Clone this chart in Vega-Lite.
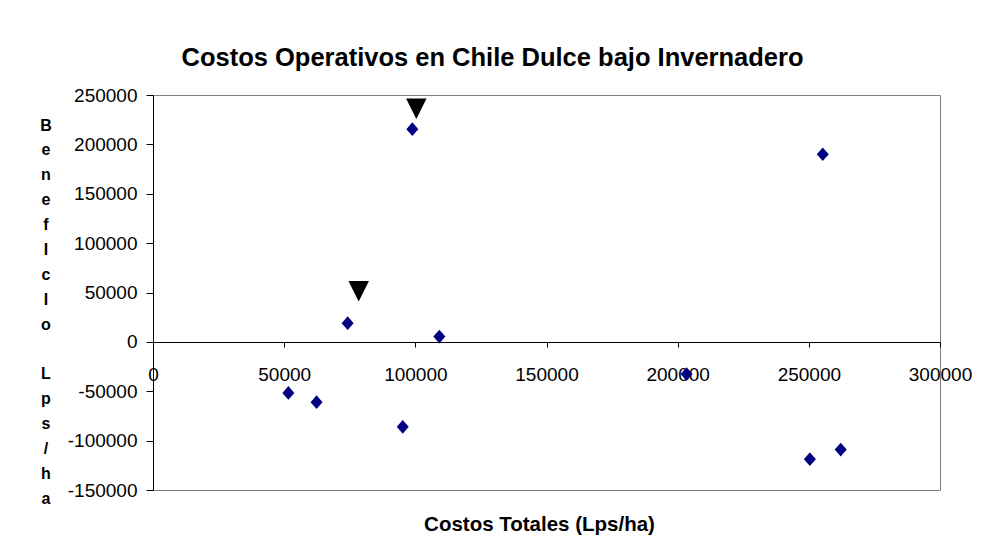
{
  "$schema": "https://vega.github.io/schema/vega-lite/v6.json",
  "width": 787,
  "height": 395,
  "autosize": {"type": "none"},
  "padding": {"left": 153, "top": 95, "right": 42, "bottom": 60},
  "background": "white",
  "config": {
    "view": {"stroke": "#808080", "strokeWidth": 1},
    "font": "Liberation Sans"
  },
  "title": {
    "text": "Costos Operativos en Chile Dulce bajo Invernadero",
    "font": "Liberation Sans",
    "fontSize": 25.5,
    "fontWeight": "bold",
    "color": "black",
    "anchor": "middle",
    "frame": "group",
    "baseline": "alphabetic",
    "offset": 33,
    "dx": -54,
    "dy": 38
  },
  "data": {
    "values": [
      {"serie": "dato", "costo": 74200, "beneficio": 18900},
      {"serie": "dato", "costo": 98860, "beneficio": 215400},
      {"serie": "dato", "costo": 109150, "beneficio": 5400},
      {"serie": "dato", "costo": 255300, "beneficio": 190000},
      {"serie": "dato", "costo": 51600, "beneficio": -51700},
      {"serie": "dato", "costo": 62350, "beneficio": -61100},
      {"serie": "dato", "costo": 95200, "beneficio": -86000},
      {"serie": "dato", "costo": 203400, "beneficio": -32600},
      {"serie": "dato", "costo": 250400, "beneficio": -118800},
      {"serie": "dato", "costo": 262150, "beneficio": -109100},
      {"serie": "marca", "costo": 78400, "beneficio": 51300},
      {"serie": "marca", "costo": 100370, "beneficio": 236150}
    ]
  },
  "encoding": {
    "x": {
      "field": "costo",
      "type": "quantitative",
      "scale": {"domain": [0, 300000], "nice": false, "zero": false},
      "axis": {
        "title": "Costos Totales (Lps/ha)",
        "offset": -148,
        "values": [0, 50000, 100000, 150000, 200000, 250000, 300000],
        "labelExpr": "'' + datum.value",
        "labelFont": "Liberation Sans",
        "labelFontSize": 19,
        "labelColor": "black",
        "labelBaseline": "alphabetic",
        "labelPadding": 33.7,
        "labelFlush": false,
        "labelOverlap": false,
        "tickSize": 5,
        "tickColor": "black",
        "domainColor": "black",
        "grid": false,
        "titleFont": "Liberation Sans",
        "titleFontSize": 20.5,
        "titleFontWeight": "bold",
        "titleColor": "black",
        "titleBaseline": "alphabetic",
        "titleX": 386,
        "titleY": 188
      }
    },
    "y": {
      "field": "beneficio",
      "type": "quantitative",
      "scale": {"domain": [-150000, 250000], "nice": false, "zero": false},
      "axis": {
        "title": ["B", "e", "n", "e", "f", "I", "c", "I", "o", "\u200b", "L", "p", "s", "/", "h", "a"],
        "titleAngle": 0,
        "titleX": -107.5,
        "titleY": 35,
        "titleAlign": "center",
        "titleBaseline": "alphabetic",
        "titleLineHeight": 24.9,
        "titleFont": "Liberation Sans",
        "titleFontSize": 16,
        "titleFontWeight": "bold",
        "titleColor": "black",
        "values": [-150000, -100000, -50000, 0, 50000, 100000, 150000, 200000, 250000],
        "labelExpr": "'' + datum.value",
        "labelFont": "Liberation Sans",
        "labelFontSize": 19,
        "labelColor": "black",
        "labelPadding": 9,
        "labelFlush": false,
        "labelOverlap": false,
        "tickSize": 7,
        "tickColor": "black",
        "domainColor": "black",
        "grid": false
      }
    }
  },
  "layer": [
    {
      "transform": [{"filter": "datum.serie === 'dato'"}],
      "mark": {
        "type": "point",
        "shape": "M-1,0L0,-1.14L1,0L0,1.14Z",
        "size": 144,
        "filled": true,
        "color": "#000080",
        "opacity": 1,
        "strokeWidth": 0
      }
    },
    {
      "transform": [{"filter": "datum.serie === 'marca'"}],
      "mark": {
        "type": "point",
        "shape": "M-1,-1L1,-1L0,1Z",
        "size": 420,
        "filled": true,
        "color": "black",
        "opacity": 1,
        "strokeWidth": 0
      }
    }
  ]
}
